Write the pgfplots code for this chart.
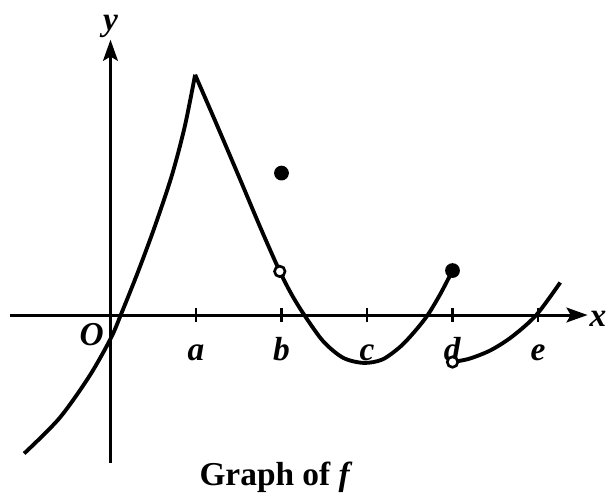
\documentclass[border=0pt]{standalone}
\usepackage{fontspec}
\setmainfont{Liberation Serif}
\usepackage{pgfplots}
\pgfplotsset{compat=1.18}
\usetikzlibrary{arrows.meta}
\begin{document}
\begin{tikzpicture}[font=\fontsize{9.5}{11}\selectfont\bfseries]
\begin{axis}[
  x=0.855cm, y=0.855cm,
  axis lines=middle,
  xmin=-1.18, xmax=5.58, ymin=-1.73, ymax=3.22,
  axis line style={line width=0.85pt, -{Stealth[length=6pt,width=4.2pt,inset=1.2pt]}},
  xtick={1,2,3,4,5},
  xticklabels={\textit{a},\textit{b},\textit{c},\textit{d},\textit{e}},
  ytick=\empty,
  tick align=center,
  major tick length=4pt,
  tick style={line width=0.6pt, black},
  xticklabel style={anchor=base, yshift=-10.8pt, inner sep=0pt, font=\fontsize{9.5}{11}\selectfont\bfseries},
  clip=false,
]
% left piece
\addplot[line width=1.1pt, smooth] coordinates {
  (-1.01,-1.62) (-0.60,-1.21) (-0.25,-0.72) (0,-0.28) (0.12,0)
  (0.32,0.50) (0.52,1.04) (0.72,1.64) (0.87,2.21) (0.99,2.81)};
% middle piece
\addplot[line width=1.1pt, smooth] coordinates {
  (0.99,2.81) (1.25,2.21) (1.51,1.60) (1.75,1.03) (1.98,0.51) (2.13,0.22)
  (2.28,-0.02) (2.49,-0.31) (2.72,-0.50) (2.96,-0.56) (3.18,-0.52) (3.39,-0.37)
  (3.56,-0.19) (3.71,0) (3.86,0.25) (4.00,0.52)};
% right piece
\addplot[line width=1.1pt, smooth] coordinates {
  (4.0,-0.55) (4.2,-0.51) (4.45,-0.41) (4.7,-0.25) (4.98,0) (5.26,0.38)};
% filled points
\addplot[only marks, mark=*, mark size=1.9pt, black] coordinates {(2,1.66) (4.0,0.52)};
% open points
\addplot[only marks, mark=*, mark size=1.5pt, black, mark options={fill=white, line width=0.75pt}] coordinates {(1.98,0.51) (4.0,-0.55)};
\node at (axis cs:-0.22,-0.234) {\textit{O}};
\node at (axis cs:0,3.38) {\textit{y}};
\node[anchor=west, inner sep=0pt] at (axis cs:5.595,-0.04) {\textit{x}};
\node[anchor=base] at (axis cs:1.936,-1.988) {Graph of \textit{f}};
\coordinate (BL) at (axis cs:-1.292,-2.070);
\coordinate (TR) at (axis cs:5.807,3.684);
\end{axis}
\pgfresetboundingbox
\path[use as bounding box] (BL) rectangle (TR);
\end{tikzpicture}
\end{document}
